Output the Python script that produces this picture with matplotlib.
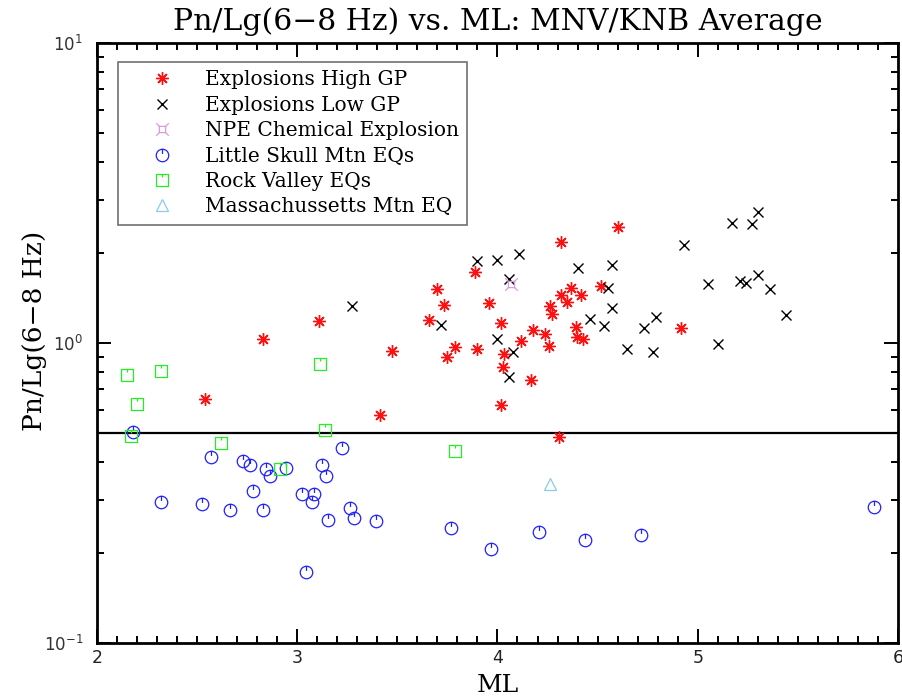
import matplotlib
matplotlib.use('Agg')
import matplotlib.pyplot as plt
from matplotlib.path import Path
from matplotlib.ticker import MultipleLocator, NullFormatter, LogLocator

# Dados (ML, Pn/Lg)
high_gp_ml = [2.54, 2.83, 3.11, 3.415, 3.475, 3.657, 3.698, 3.735, 3.747, 3.787,
              3.887, 3.897, 3.957, 4.018, 4.017, 4.027, 4.035, 4.117, 4.167, 4.178,
              4.235, 4.258, 4.26, 4.27, 4.308, 4.317, 4.317, 4.348, 4.368, 4.39,
              4.398, 4.417, 4.427, 4.515, 4.6, 4.915]
high_gp_ratio = [0.65, 1.03, 1.18, 0.575, 0.94, 1.19, 1.51, 1.34, 0.90, 0.97,
                 1.72, 0.953, 1.36, 1.17, 0.62, 0.83, 0.92, 1.015, 0.75, 1.105,
                 1.07, 0.98, 1.33, 1.25, 0.487, 2.17, 1.44, 1.37, 1.52, 1.13,
                 1.05, 1.445, 1.03, 1.55, 2.44, 1.12]

low_gp_ml = [3.275, 3.717, 3.897, 3.997, 3.997, 4.057, 4.057, 4.078, 4.108, 4.40,
             4.46, 4.53, 4.55, 4.57, 4.57, 4.648, 4.73, 4.778, 4.79, 4.93,
             5.05, 5.10, 5.17, 5.21, 5.24, 5.27, 5.30, 5.30, 5.36, 5.44]
low_gp_ratio = [1.33, 1.15, 1.87, 1.89, 1.03, 1.64, 0.77, 0.93, 1.98, 1.78,
                1.20, 1.14, 1.53, 1.82, 1.31, 0.953, 1.12, 0.93, 1.22, 2.12,
                1.57, 0.995, 2.52, 1.61, 1.59, 2.50, 2.73, 1.69, 1.51, 1.24]

npe_ml = [4.07]
npe_ratio = [1.57]

lsm_ml = [2.18, 2.32, 2.525, 2.57, 2.665, 2.73, 2.765, 2.78, 2.83, 2.845,
          2.865, 2.945, 3.025, 3.045, 3.075, 3.085, 3.125, 3.145, 3.153, 3.225,
          3.265, 3.285, 3.395, 3.768, 3.967, 4.207, 4.438, 4.718, 5.88]
lsm_ratio = [0.505, 0.294, 0.291, 0.417, 0.277, 0.405, 0.391, 0.322, 0.278, 0.379,
             0.361, 0.382, 0.314, 0.173, 0.294, 0.315, 0.391, 0.361, 0.258, 0.447,
             0.281, 0.262, 0.256, 0.242, 0.206, 0.234, 0.221, 0.229, 0.283]

rv_ml = [2.152, 2.17, 2.20, 2.32, 2.62, 2.915, 3.115, 3.14, 3.787]
rv_ratio = [0.782, 0.49, 0.626, 0.807, 0.465, 0.381, 0.849, 0.513, 0.436]

mm_ml = [4.26]
mm_ratio = [0.339]

limiar = 0.5

# Marcadores personalizados (circulo / quadrado com traco no topo)
M, L = Path.MOVETO, Path.LINETO
traco = Path([(0, 1), (0, 0.25)], [M, L])
circulo_traco = Path.make_compound_path(Path.unit_circle(), traco)
quadrado_traco = Path.make_compound_path(
    Path([(-1, -1), (1, -1), (1, 1), (-1, 1), (-1, -1)], [M, L, L, L, L]),
    Path([(0, 1), (0, 0.45)], [M, L]))
npe_path = Path.make_compound_path(
    Path([(-0.5, -0.5), (0.5, -0.5), (0.5, 0.5), (-0.5, 0.5), (-0.5, -0.5)], [M, L, L, L, L]),
    Path([(-1, -1), (-0.5, -0.5)], [M, L]),
    Path([(1, -1), (0.5, -0.5)], [M, L]),
    Path([(1, 1), (0.5, 0.5)], [M, L]),
    Path([(-1, 1), (-0.5, 0.5)], [M, L]))

fonte_serif = 'DejaVu Serif'

fig = plt.figure(figsize=(9.02, 6.98), dpi=100)
ax = fig.add_axes([0.1075, 0.0788, 0.888, 0.8596])

ax.plot(high_gp_ml, high_gp_ratio, linestyle='none', marker=(8, 2, 0), markersize=9,
        markeredgewidth=1.0, color='#ff1010', label='Explosions High GP')
ax.plot(low_gp_ml, low_gp_ratio, linestyle='none', marker='x', markersize=6.5,
        markeredgewidth=1.0, color='black', label='Explosions Low GP')
ax.plot(npe_ml, npe_ratio, linestyle='none', marker=npe_path, markersize=9,
        markeredgewidth=0.9, markerfacecolor='none', color='#dd99dd',
        label='NPE Chemical Explosion')
ax.plot(lsm_ml, lsm_ratio, linestyle='none', marker=circulo_traco, markersize=9,
        markeredgewidth=0.9, markerfacecolor='none', color='#2020ff',
        label='Little Skull Mtn EQs')
ax.plot(rv_ml, rv_ratio, linestyle='none', marker=quadrado_traco, markersize=9,
        markeredgewidth=0.9, markerfacecolor='none', color='#22ee22',
        label='Rock Valley EQs')
ax.plot(mm_ml, mm_ratio, linestyle='none', marker='^', markersize=8,
        markeredgewidth=0.9, markerfacecolor='none', color='#87cceb',
        label='Massachussetts Mtn EQ')

ax.axhline(limiar, color='black', linewidth=1.6, zorder=1)

ax.set_yscale('log')
ax.set_xlim(2, 6)
ax.set_ylim(0.1, 10)

# Eixos estilo IDL: ticks para dentro nos quatro lados
ax.xaxis.set_major_locator(MultipleLocator(1))
ax.xaxis.set_minor_locator(MultipleLocator(0.1))
ax.yaxis.set_major_locator(LogLocator(base=10))
ax.yaxis.set_minor_locator(LogLocator(base=10, subs=range(2, 10)))
ax.yaxis.set_minor_formatter(NullFormatter())
ax.tick_params(which='both', direction='in', top=True, right=True, width=1.4)
ax.tick_params(which='major', length=10)
ax.tick_params(which='minor', length=5)
ax.tick_params(axis='x', labelsize=12.5, pad=4.5, labelcolor='#222222')
ax.tick_params(axis='y', labelsize=12, pad=10, labelcolor='#333333')
for spine in ax.spines.values():
    spine.set_linewidth(2.0)

ax.set_title('Pn/Lg(6\u22128 Hz) vs. ML: MNV/KNB Average', fontfamily=fonte_serif,
             fontsize=21.5, pad=9)
ax.set_xlabel('ML', fontfamily=fonte_serif, fontsize=18)
ax.xaxis.set_label_coords(0.5, -0.052)
ax.set_ylabel('Pn/Lg(6\u22128 Hz)', fontfamily=fonte_serif, fontsize=19)
ax.yaxis.set_label_coords(-0.0624, 0.52)

leg = ax.legend(loc='upper left', bbox_to_anchor=(0.026, 0.968), borderaxespad=0,
                prop={'family': fonte_serif, 'size': 14.5}, frameon=True,
                fancybox=False, handlelength=3.6, handletextpad=0.35,
                labelspacing=0.32, borderpad=0.4)
leg.get_frame().set_edgecolor('0.3')
leg.get_frame().set_linewidth(1.2)

plt.savefig('out.png', dpi=100)
